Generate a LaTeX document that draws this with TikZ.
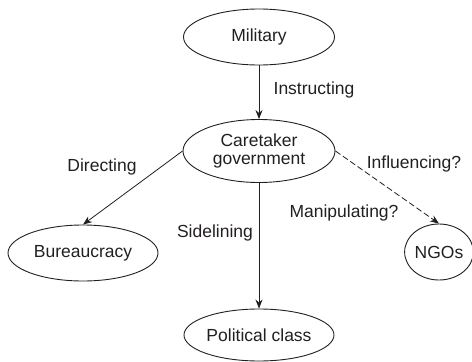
\documentclass[tikz,border=0pt]{standalone}
\usepackage{fontspec}
\setmainfont{Liberation Sans}
\usetikzlibrary{shapes.geometric,arrows.meta}
\definecolor{ink}{HTML}{231F20}
\begin{document}
\begin{tikzpicture}[x=1pt,y=-1pt,
  every node/.style={font=\fontsize{17.5}{20}\selectfont, text=ink},
  oval/.style={ellipse, draw=ink, line width=0.9pt, inner sep=0pt, align=center},
  conn/.style={draw=ink, line width=0.8pt, -{Stealth[length=9pt,width=7pt]}},
  lbl/.style={inner sep=0pt, anchor=center}]
\useasboundingbox (0,0) rectangle (472,362);
\node[oval, minimum width=151, minimum height=56] (mil) at (259,37) {Military};
\node[oval, minimum width=152, minimum height=63] (care) at (259,151) {Caretaker\\[-2pt]government};
\node[oval, minimum width=150, minimum height=56] (bur) at (83,253) {Bureaucracy};
\node[oval, minimum width=64, minimum height=56] (ngo) at (439,252) {NGOs};
\node[oval, minimum width=150, minimum height=52] (pol) at (259,335) {Political class};
\draw[conn] (mil.south) -- (care.north);
\draw[conn] (care.west) -- (bur.north);
\draw[conn, dash pattern=on 6pt off 3pt] (care.east) -- (ngo.north);
\draw[conn] (care.south) -- (pol.north);
\node[lbl] (l1) at (314,90) {Instructing};
\node[lbl] (l2) at (102,167) {Directing};
\node[lbl] (l3) at (414,164) {Influencing?};
\node[lbl] (l4) at (344,213) {Manipulating?};
\node[lbl] (l5) at (215,233) {Sidelining};
\end{tikzpicture}
\end{document}
